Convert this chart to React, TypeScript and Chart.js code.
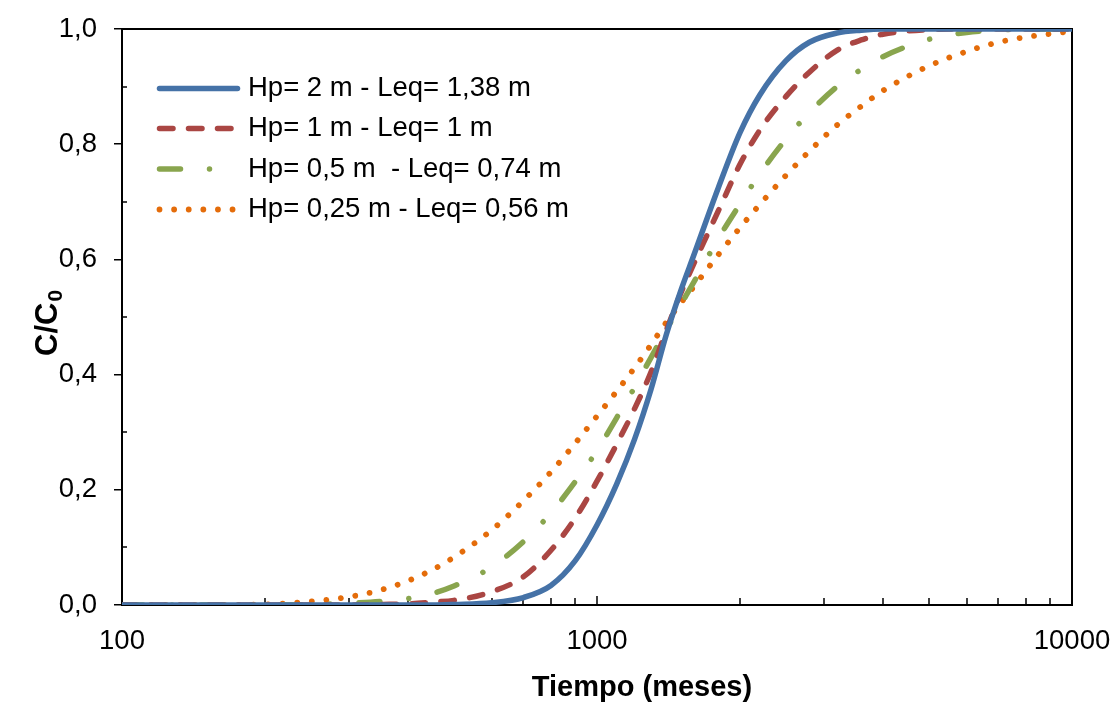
import React, { useEffect, useRef } from 'react';
import { Chart, registerables } from 'chart.js';

Chart.register(...registerables);

// Tiempo (meses)
const TIME = [100, 150, 200, 250, 300, 350, 400, 450, 500, 600, 700, 800, 900, 1000, 1100, 1200, 1300, 1400, 1500, 1600, 1800, 2000, 2200, 2500, 2800, 3200, 3600, 4000, 5000, 6000, 7000, 8000, 10000];

// C/C0 for each case
const HP_2 = [0, 0, 0, 0, 0, 0, 0, 0, 0.001, 0.004, 0.013, 0.034, 0.077, 0.139, 0.21, 0.288, 0.375, 0.47, 0.545, 0.608, 0.724, 0.82, 0.885, 0.945, 0.977, 0.993, 0.998, 1, 1, 1, 1, 1, 1];
const HP_1 = [0, 0, 0, 0, 0, 0.001, 0.002, 0.005, 0.008, 0.023, 0.049, 0.095, 0.151, 0.215, 0.279, 0.341, 0.405, 0.477, 0.541, 0.593, 0.684, 0.765, 0.824, 0.883, 0.925, 0.963, 0.981, 0.991, 0.999, 1, 1, 1, 1];
const HP_05 = [0, 0, 0, 0.001, 0.003, 0.006, 0.011, 0.02, 0.033, 0.066, 0.11, 0.16, 0.214, 0.268, 0.325, 0.378, 0.43, 0.478, 0.521, 0.561, 0.636, 0.696, 0.748, 0.809, 0.855, 0.9, 0.93, 0.952, 0.982, 0.994, 0.998, 1, 1];
const HP_025 = [0, 0, 0.001, 0.006, 0.014, 0.026, 0.042, 0.061, 0.083, 0.13, 0.181, 0.231, 0.281, 0.328, 0.371, 0.412, 0.452, 0.491, 0.524, 0.553, 0.608, 0.655, 0.695, 0.746, 0.788, 0.833, 0.866, 0.893, 0.936, 0.961, 0.977, 0.986, 0.996];

const SERIES_LABELS = [
  'Hp= 2 m - Leq= 1,38 m',
  'Hp= 1 m - Leq= 1 m',
  'Hp= 0,5 m  - Leq= 0,74 m',
  'Hp= 0,25 m - Leq= 0,56 m',
];

const X_TICKS = [100, 200, 300, 400, 500, 600, 700, 800, 900, 1000, 2000, 3000, 4000, 5000, 6000, 7000, 8000, 9000, 10000];
const X_LABELED = [100, 1000, 10000];
const Y_MINOR = [0.1, 0.3, 0.5, 0.7, 0.9];

const X_TITLE = 'Tiempo (meses)';
const Y_TITLE_MAIN = 'C/C';
const Y_TITLE_SUB = '0';

const FONT = "'Liberation Sans', Arial, sans-serif";

const toPoints = (ys: number[]) => TIME.map((t, i) => ({ x: t, y: ys[i] }));

const decorPlugin = {
  id: 'decor',
  beforeDatasetsDraw(chart: any) {
    const ctx = chart.ctx;
    const a = chart.chartArea;
    const xs = chart.scales.x;
    const ys = chart.scales.y;
    ctx.save();
    ctx.strokeStyle = '#000';
    ctx.lineWidth = 1.5;
    ctx.beginPath();
    X_TICKS.forEach((v) => {
      if (v === 100 || v === 10000) return;
      const px = Math.round(xs.getPixelForValue(v));
      const len = X_LABELED.includes(v) ? 9 : 7;
      ctx.moveTo(px, a.bottom);
      ctx.lineTo(px, a.bottom - len);
    });
    Y_MINOR.forEach((v) => {
      const py = Math.round(ys.getPixelForValue(v));
      ctx.moveTo(a.left, py);
      ctx.lineTo(a.left + 5, py);
    });
    ctx.stroke();
    ctx.lineWidth = 2;
    ctx.beginPath();
    ctx.moveTo(a.left, a.top);
    ctx.lineTo(a.right, a.top);
    ctx.lineTo(a.right, a.bottom);
    ctx.stroke();
    ctx.restore();
  },
  afterDraw(chart: any) {
    const ctx = chart.ctx;
    const rows = [88.5, 128.5, 169, 209.5];
    ctx.save();
    chart.data.datasets.forEach((ds: any, i: number) => {
      ctx.save();
      ctx.strokeStyle = ds.borderColor;
      ctx.lineWidth = ds.borderWidth;
      ctx.lineCap = 'round';
      ctx.setLineDash(ds.borderDash || []);
      ctx.beginPath();
      ctx.moveTo(159.5, rows[i]);
      ctx.lineTo(237.5, rows[i]);
      ctx.stroke();
      ctx.restore();
      ctx.fillStyle = '#000';
      ctx.font = `27.5px ${FONT}`;
      ctx.textBaseline = 'middle';
      ctx.textAlign = 'left';
      ctx.fillText(ds.label, 248, rows[i]);
    });
    // x title
    ctx.fillStyle = '#000';
    ctx.font = `bold 29px ${FONT}`;
    ctx.textAlign = 'center';
    ctx.textBaseline = 'middle';
    ctx.fillText(X_TITLE, 642, 688);
    // y title
    ctx.translate(48, 356);
    ctx.rotate(-Math.PI / 2);
    ctx.textAlign = 'left';
    ctx.font = `bold 31px ${FONT}`;
    ctx.fillText(Y_TITLE_MAIN, 0, 0);
    const w = ctx.measureText(Y_TITLE_MAIN).width;
    ctx.font = `bold 21px ${FONT}`;
    ctx.fillText(Y_TITLE_SUB, w + 1, 8);
    ctx.restore();
  },
};

export default function App() {
  const ref = useRef<HTMLCanvasElement | null>(null);
  useEffect(() => {
    if (!ref.current) return;
    const common = { pointRadius: 0, fill: false, cubicInterpolationMode: 'monotone', borderCapStyle: 'round', borderJoinStyle: 'round' };
    const chart = new Chart(ref.current, {
      type: 'line',
      data: {
        datasets: [
          { ...common, label: SERIES_LABELS[0], data: toPoints(HP_2), borderColor: '#4572A7', borderWidth: 5.5, borderDash: [] },
          { ...common, label: SERIES_LABELS[1], data: toPoints(HP_1), borderColor: '#AA4643', borderWidth: 5.5, borderDash: [13.5, 15.5] },
          { ...common, label: SERIES_LABELS[2], data: toPoints(HP_05), borderColor: '#89A54E', borderWidth: 5.5, borderDash: [21, 29, 0.01, 29] },
          { ...common, label: SERIES_LABELS[3], data: toPoints(HP_025), borderColor: '#E46C0A', borderWidth: 5.8, borderDash: [0.01, 14.6] },
        ] as any,
      },
      options: {
        responsive: false,
        animation: false,
        devicePixelRatio: 1,
        layout: { padding: { top: 29, right: 44, bottom: 0, left: 0 } },
        plugins: { legend: { display: false }, tooltip: { enabled: false } },
        scales: {
          x: {
            type: 'logarithmic',
            min: 100,
            max: 10000,
            afterBuildTicks: (s: any) => {
              s.ticks = X_TICKS.map((v) => ({ value: v }));
            },
            afterFit: (s: any) => {
              s.height = 97;
              s.paddingLeft = 0;
              s.paddingRight = 0;
              s.paddingTop = 0;
              s.paddingBottom = 0;
            },
            grid: { display: false },
            border: { display: true, color: '#000', width: 2 },
            ticks: {
              autoSkip: false,
              maxRotation: 0,
              padding: 12,
              color: '#000',
              font: { size: 27.5, family: FONT },
              callback: (v: any) => (X_LABELED.includes(Number(v)) ? String(v) : ''),
            },
          },
          y: {
            min: 0,
            max: 1,
            afterFit: (s: any) => {
              s.width = 122;
              s.paddingLeft = 0;
              s.paddingRight = 0;
              s.paddingTop = 0;
              s.paddingBottom = 0;
            },
            grid: { drawOnChartArea: false, drawTicks: true, tickLength: 8, color: '#000', lineWidth: 1.5 },
            border: { display: true, color: '#000', width: 2 },
            ticks: {
              stepSize: 0.2,
              padding: 17,
              color: '#000',
              font: { size: 27.5, family: FONT },
              callback: (v: any) => Number(v).toFixed(1).replace('.', ','),
            },
          },
        },
      } as any,
      plugins: [decorPlugin],
    });
    return () => chart.destroy();
  }, []);
  return (
    <div style={{ position: 'absolute', left: 0, top: 0, width: 1116, height: 702, background: '#fff' }}>
      <canvas ref={ref} width={1116} height={702} style={{ width: 1116, height: 702, display: 'block' }} />
    </div>
  );
}
